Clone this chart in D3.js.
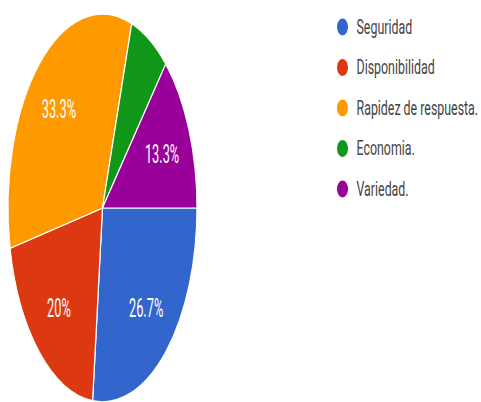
<!DOCTYPE html>
<meta charset="utf-8">
<title>Pie chart</title>
<style>
  body { margin: 0; background: #fff; }
  .slice { stroke: #fff; stroke-width: 1.2px; vector-effect: non-scaling-stroke; }
  .label { fill: #fff; font-family: Roboto, "Liberation Sans", sans-serif; font-size: 12.8px; }
  .legend text { fill: #444; font-family: Roboto, "Liberation Sans", sans-serif; font-size: 12.4px; }
</style>
<body>
<script src="https://d3js.org/d3.v7.min.js"></script>
<script>
  // data (15 answers)
  var categories = ["Seguridad", "Disponibilidad", "Rapidez de respuesta.", "Economia.", "Variedad."];
  var counts = [4, 3, 5, 1, 2];
  var labels = ["26.7%", "20%", "33.3%", "", "13.3%"];
  var colors = ["#3366cc", "#dc3912", "#ff9900", "#109618", "#990099"];

  var width = 481, height = 402;
  var cx = 102.5, cy = 208, r = 94.5, sy = 2.05;

  var svg = d3.select("body").append("svg")
    .attr("width", width)
    .attr("height", height);

  var pie = d3.pie().sort(null)
    .startAngle(Math.PI / 2)
    .endAngle(Math.PI / 2 + 2 * Math.PI);

  var arc = d3.arc().innerRadius(0).outerRadius(r);
  var labelArc = d3.arc().innerRadius(r * 0.69).outerRadius(r * 0.69);

  var arcs = pie(counts);

  // the chart is stretched vertically, so draw it in a scaled group
  var g = svg.append("g")
    .attr("transform", "translate(" + cx + "," + cy + ") scale(1," + sy + ")");

  g.selectAll(".slice")
    .data(arcs)
    .enter().append("path")
    .attr("class", "slice")
    .attr("d", arc)
    .attr("fill", (d, i) => colors[i]);

  g.selectAll(".label")
    .data(arcs)
    .enter().append("text")
    .attr("class", "label")
    .attr("transform", d => "translate(" + labelArc.centroid(d) + ")")
    .attr("text-anchor", "middle")
    .attr("dy", "0.35em")
    .text((d, i) => labels[i]);

  // legend
  var ly = d3.scaleLinear().domain([0, 4]).range([27, 189]);
  var legend = svg.append("g").attr("class", "legend");

  var item = legend.selectAll("g")
    .data(categories)
    .enter().append("g")
    .attr("transform", (d, i) => "translate(342.5," + ly(i) + ")");

  item.append("ellipse")
    .attr("rx", 5.5)
    .attr("ry", 8.5)
    .attr("fill", (d, i) => colors[i]);

  item.append("text")
    .attr("transform", "translate(14,0) scale(1,1.6)")
    .attr("dy", "0.35em")
    .text(d => d);
</script>
</body>
